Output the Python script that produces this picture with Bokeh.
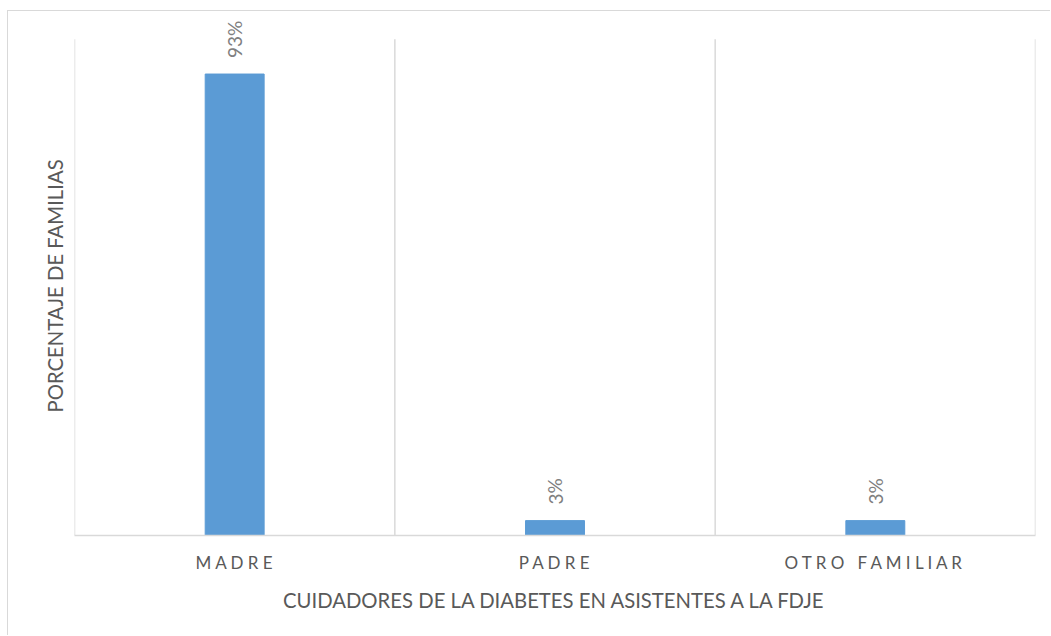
from bokeh.plotting import figure
from bokeh.models import ColumnDataSource, FactorRange, Range1d, Title
from bokeh.embed import file_html
from bokeh.resources import INLINE
from bokeh.core.properties import value

# Data
categories = ["MADRE", "PADRE", "OTRO FAMILIAR"]
percentages = [93, 3, 3]
value_labels = [f"{v}%" for v in percentages]

x_title = "CUIDADORES DE LA DIABETES EN ASISTENTES A LA FDJE"
y_title = "PORCENTAJE DE FAMILIAS"

FONT = "Lato"
BAR_COLOR = "#5b9bd5"
GRID_COLOR = "#d9d9d9"
TEXT_COLOR = "#595959"
LABEL_COLOR = "#808080"
Y_MAX = 100       # top of the value scale (separators end here)
Y_HEADROOM = 105  # room above the scale for the value labels


def spaced(s):
    # letter-spaced category labels
    return " ".join("\u00a0" if ch == " " else ch for ch in s)


factors = [spaced(c) for c in categories]
source = ColumnDataSource(dict(cat=factors, pct=percentages, lbl=value_labels))

p = figure(
    x_range=FactorRange(*factors, range_padding=0),
    y_range=Range1d(0, Y_HEADROOM),
    width=1043, height=625,
    output_backend="svg", toolbar_location=None,
    min_border_left=66, min_border_right=16,
    min_border_top=3, min_border_bottom=101,
)
p.styles = {
    "margin-left": "7px", "margin-top": "10px",
    "border-left": "1px solid #d9d9d9", "border-top": "1px solid #d9d9d9",
}
p.outline_line_color = None
p.background_fill_color = "white"
p.border_fill_color = "white"

# vertical separators between categories, spanning the value scale
n = len(categories)
p.segment(x0=list(range(n + 1)), y0=[0] * (n + 1),
          x1=list(range(n + 1)), y1=[Y_MAX] * (n + 1),
          line_color=GRID_COLOR, line_width=1.5)

p.vbar(x="cat", top="pct", width=0.184, source=source,
       fill_color=BAR_COLOR, line_color=BAR_COLOR)

# rotated value labels above the bars
p.text(x="cat", y="pct", text="lbl", source=source, angle=1.5708,
       text_align="left", text_baseline="middle", y_offset=-16,
       text_font=value(FONT), text_font_size="19px", text_color=LABEL_COLOR)

p.xgrid.grid_line_color = None
p.ygrid.grid_line_color = None

p.xaxis.axis_line_color = GRID_COLOR
p.xaxis.axis_line_width = 1.5
p.xaxis.major_tick_line_color = None
p.xaxis.minor_tick_line_color = None
p.xaxis.major_label_text_font = FONT
p.xaxis.major_label_text_font_size = "17px"
p.xaxis.major_label_text_color = TEXT_COLOR
p.xaxis.major_label_standoff = 10
p.xaxis.axis_label = x_title
p.xaxis.axis_label_text_font = FONT
p.xaxis.axis_label_text_font_size = "20.3px"
p.xaxis.axis_label_text_font_style = "normal"
p.xaxis.axis_label_text_color = TEXT_COLOR
p.xaxis.axis_label_standoff = 12

# vertical title, centred on the value scale rather than on the whole frame
p.yaxis.visible = False
p.add_layout(Title(text=y_title, align="left", offset=123, standoff=16,
                   vertical_align="bottom",
                   text_font=FONT, text_font_size="20.3px",
                   text_font_style="normal", text_color=TEXT_COLOR), "left")

open("out.html", "w").write(file_html(p, INLINE))
